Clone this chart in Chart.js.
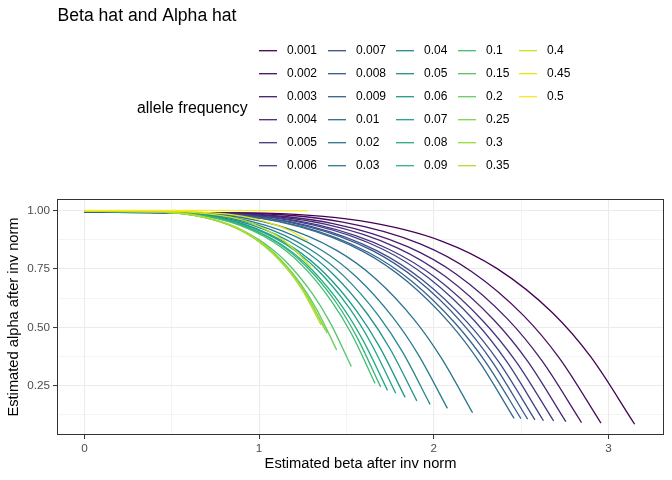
<!DOCTYPE html>
<html>
<head>
<meta charset="utf-8">
<script src="https://cdn.jsdelivr.net/npm/chart.js@4"></script>
<style>
  html, body { margin: 0; padding: 0; background: #fff; }
  #wrap { width: 672px; height: 480px; }
</style>
</head>
<body>
<div id="wrap"><canvas id="chart" width="672" height="480"></canvas></div>
<script>
// Allele frequency groups (legend order)
const freqLabels = ['0.001', '0.002', '0.003', '0.004', '0.005', '0.006', '0.007', '0.008', '0.009',
  '0.01', '0.02', '0.03', '0.04', '0.05', '0.06', '0.07', '0.08', '0.09',
  '0.1', '0.15', '0.2', '0.25', '0.3', '0.35', '0.4', '0.45', '0.5'];

// viridis, 27 levels
const viridisColors = ['#440154', '#470e61', '#481c6e', '#482878', '#453581', '#424186', '#3d4d8a',
  '#39578c', '#36618d', '#306b8e', '#2c748e', '#287d8e', '#24878e', '#21918c', '#1f998a', '#20a386',
  '#26ac82', '#31b57b', '#41bd72', '#54c568', '#69cd5b', '#7fd34e', '#98d83e', '#b3dd2d', '#cde11d',
  '#e6e419', '#fde725'];

// Estimated beta (x) per group
const betaHat = [
  [0, 0.945, 1.575, 2.048, 2.363, 2.678, 2.898, 3.150],
  [0, 0.887, 1.479, 1.922, 2.218, 2.513, 2.720, 2.957],
  [0, 0.854, 1.423, 1.850, 2.135, 2.419, 2.618, 2.846],
  [0, 0.827, 1.378, 1.791, 2.067, 2.343, 2.536, 2.756],
  [0, 0.806, 1.343, 1.746, 2.015, 2.283, 2.471, 2.686],
  [0, 0.788, 1.314, 1.708, 1.971, 2.234, 2.418, 2.628],
  [0, 0.774, 1.290, 1.676, 1.934, 2.192, 2.373, 2.579],
  [0, 0.761, 1.269, 1.649, 1.903, 2.156, 2.334, 2.537],
  [0, 0.750, 1.250, 1.624, 1.874, 2.124, 2.299, 2.499],
  [0, 0.738, 1.230, 1.599, 1.845, 2.091, 2.263, 2.460],
  [0, 0.667, 1.111, 1.444, 1.667, 1.889, 2.044, 2.222],
  [0, 0.623, 1.039, 1.351, 1.559, 1.766, 1.912, 2.078],
  [0, 0.594, 0.990, 1.286, 1.484, 1.682, 1.821, 1.979],
  [0, 0.571, 0.952, 1.237, 1.427, 1.618, 1.751, 1.903],
  [0, 0.551, 0.918, 1.193, 1.377, 1.561, 1.689, 1.836],
  [0, 0.535, 0.891, 1.158, 1.337, 1.515, 1.639, 1.782],
  [0, 0.521, 0.868, 1.128, 1.301, 1.475, 1.596, 1.735],
  [0, 0.509, 0.848, 1.102, 1.272, 1.442, 1.560, 1.696],
  [0, 0.499, 0.832, 1.082, 1.248, 1.414, 1.531, 1.664],
  [0, 0.458, 0.764, 0.993, 1.146, 1.299, 1.406, 1.528],
  [0, 0.433, 0.722, 0.939, 1.083, 1.227, 1.328, 1.444],
  [0, 0.417, 0.695, 0.904, 1.043, 1.182, 1.279, 1.390],
  [0, 0.414, 0.691, 0.898, 1.036, 1.174, 1.271, 1.381],
  [0, 0.407, 0.678, 0.881, 1.016, 1.152, 1.247, 1.355],
  [0, 0.389, 0.649, 0.843, 0.973, 1.102, 1.193, 1.297],
  [0, 0.383, 0.639, 0.831, 0.959, 1.086, 1.176, 1.278],
  [0, 0.638, 1.276]
];

// Estimated alpha (y) per group
const alphaHat = [
  [0.993, 0.990, 0.956, 0.868, 0.751, 0.563, 0.374, 0.085],
  [0.993, 0.989, 0.950, 0.857, 0.738, 0.551, 0.367, 0.090],
  [0.993, 0.987, 0.944, 0.845, 0.724, 0.538, 0.358, 0.092],
  [0.993, 0.987, 0.941, 0.840, 0.717, 0.532, 0.356, 0.096],
  [0.993, 0.986, 0.937, 0.833, 0.710, 0.526, 0.353, 0.099],
  [0.993, 0.986, 0.937, 0.834, 0.711, 0.527, 0.353, 0.100],
  [0.993, 0.985, 0.933, 0.827, 0.703, 0.521, 0.351, 0.104],
  [0.993, 0.985, 0.933, 0.828, 0.704, 0.523, 0.353, 0.107],
  [0.993, 0.984, 0.930, 0.821, 0.697, 0.516, 0.349, 0.109],
  [0.995, 0.986, 0.931, 0.823, 0.698, 0.518, 0.350, 0.110],
  [0.997, 0.988, 0.935, 0.829, 0.708, 0.532, 0.368, 0.134],
  [0.997, 0.988, 0.936, 0.833, 0.714, 0.542, 0.382, 0.153],
  [0.997, 0.989, 0.938, 0.836, 0.720, 0.551, 0.395, 0.170],
  [0.997, 0.989, 0.939, 0.839, 0.725, 0.559, 0.406, 0.185],
  [0.997, 0.989, 0.940, 0.842, 0.730, 0.567, 0.417, 0.200],
  [0.997, 0.990, 0.945, 0.852, 0.743, 0.584, 0.434, 0.218],
  [0.997, 0.990, 0.946, 0.854, 0.747, 0.590, 0.443, 0.230],
  [0.997, 0.991, 0.950, 0.863, 0.759, 0.605, 0.458, 0.245],
  [0.997, 0.991, 0.951, 0.865, 0.764, 0.612, 0.469, 0.260],
  [0.997, 0.992, 0.955, 0.878, 0.787, 0.650, 0.521, 0.332],
  [0.997, 0.993, 0.965, 0.900, 0.820, 0.697, 0.579, 0.403],
  [0.997, 0.994, 0.969, 0.912, 0.841, 0.733, 0.629, 0.475],
  [0.997, 0.994, 0.969, 0.913, 0.844, 0.738, 0.636, 0.485],
  [0.997, 0.995, 0.974, 0.924, 0.860, 0.759, 0.660, 0.510],
  [0.998, 0.997, 0.990, 0.970, 0.941, 0.891, 0.839, 0.757],
  [0.999, 0.999, 0.994, 0.983, 0.967, 0.940, 0.913, 0.871],
  [1.000, 1.000, 0.998]
];

// Axis ticks (major get labels, minor only grid lines)
const xMajorTicks = [0, 1, 2, 3];
const xMinorTicks = [0.5, 1.5, 2.5];
const yMajorTicks = [0.25, 0.5, 0.75, 1.0];
const yMinorTicks = [0.125, 0.375, 0.625, 0.875];

const FONT = '"Liberation Sans", Arial, Helvetica, sans-serif';
Chart.defaults.font.family = FONT;

const datasets = freqLabels.map((label, i) => ({
  label: label,
  data: betaHat[i].map((x, j) => ({ x: x, y: alphaHat[i][j] })),
  borderColor: viridisColors[i],
  backgroundColor: viridisColors[i],
  borderWidth: 1.3,
  pointRadius: 0,
  fill: false,
  cubicInterpolationMode: 'monotone',
  order: freqLabels.length - i
}));

const isMajor = (list, v) => list.some(t => Math.abs(t - v) < 1e-9);

// white page + ggplot-like title, legend and panel border
const decorations = {
  id: 'decorations',
  beforeDraw(chart) {
    const ctx = chart.ctx;
    ctx.save();
    ctx.fillStyle = '#ffffff';
    ctx.fillRect(0, 0, chart.width, chart.height);
    ctx.restore();
  },
  afterDraw(chart) {
    const ctx = chart.ctx;
    const a = chart.chartArea;
    ctx.save();

    // panel border
    ctx.strokeStyle = '#333333';
    ctx.lineWidth = 1;
    ctx.strokeRect(a.left + 0.5, a.top + 0.5, a.right - a.left - 1, a.bottom - a.top - 1);

    // title
    ctx.fillStyle = '#000000';
    ctx.font = '17.6px ' + FONT;
    ctx.textAlign = 'left';
    ctx.textBaseline = 'alphabetic';
    ctx.fillText('Beta hat and Alpha hat', 57.5, 21);

    // legend title
    ctx.font = '15.8px ' + FONT;
    ctx.textBaseline = 'middle';
    ctx.fillText('allele frequency', 137, 109);

    // legend keys, column major, 6 rows
    const colKeyX = [259, 328, 396, 458, 519];
    const rowY0 = 50.7, rowStep = 23;
    ctx.font = '12px ' + FONT;
    chart.data.datasets.forEach((ds, i) => {
      const col = Math.floor(i / 6);
      const row = i % 6;
      const kx = colKeyX[col];
      const ky = rowY0 + row * rowStep;
      ctx.strokeStyle = ds.borderColor;
      ctx.lineWidth = 1.3;
      ctx.beginPath();
      ctx.moveTo(kx, ky);
      ctx.lineTo(kx + 18, ky);
      ctx.stroke();
      ctx.fillStyle = '#000000';
      ctx.fillText(ds.label, kx + 28, ky);
    });
    ctx.restore();
  }
};

const gridColor = '#ebebeb';

new Chart(document.getElementById('chart'), {
  type: 'line',
  data: { datasets: datasets },
  plugins: [decorations],
  options: {
    responsive: false,
    animation: false,
    layout: { padding: { top: 199, right: 8, left: 0, bottom: 0 } },
    plugins: {
      legend: { display: false },
      tooltip: { enabled: false },
      title: { display: false }
    },
    scales: {
      x: {
        type: 'linear',
        min: -0.157,
        max: 3.318,
        afterFit: (scale) => { scale.height = 45; },
        afterBuildTicks: (scale) => {
          scale.ticks = [...xMajorTicks, ...xMinorTicks].sort((p, q) => p - q).map(v => ({ value: v }));
        },
        grid: {
          color: gridColor,
          lineWidth: (c) => isMajor(xMajorTicks, c.tick.value) ? 1.1 : 0.55,
          drawTicks: true,
          tickLength: 4,
          tickColor: (c) => isMajor(xMajorTicks, c.tick.value) ? '#333333' : 'rgba(0,0,0,0)',
          tickWidth: 1
        },
        border: { display: false },
        ticks: {
          autoSkip: false,
          maxRotation: 0,
          padding: 3,
          color: '#4d4d4d',
          font: { size: 11.7 },
          callback: (v) => isMajor(xMajorTicks, v) ? String(v) : ''
        },
        title: {
          display: true,
          text: 'Estimated beta after inv norm',
          color: '#000000',
          font: { size: 14.7 },
          padding: { top: 0, bottom: 7 }
        }
      },
      y: {
        type: 'linear',
        min: 0.039,
        max: 1.049,
        afterFit: (scale) => { scale.width = 57; },
        afterBuildTicks: (scale) => {
          scale.ticks = [...yMajorTicks, ...yMinorTicks].sort((p, q) => p - q).map(v => ({ value: v }));
        },
        grid: {
          color: gridColor,
          lineWidth: (c) => isMajor(yMajorTicks, c.tick.value) ? 1.1 : 0.55,
          drawTicks: true,
          tickLength: 4,
          tickColor: (c) => isMajor(yMajorTicks, c.tick.value) ? '#333333' : 'rgba(0,0,0,0)',
          tickWidth: 1
        },
        border: { display: false },
        ticks: {
          autoSkip: false,
          padding: 3,
          color: '#4d4d4d',
          font: { size: 11.7 },
          callback: (v) => isMajor(yMajorTicks, v) ? Number(v).toFixed(2) : ''
        },
        title: {
          display: true,
          text: 'Estimated alpha after inv norm',
          color: '#000000',
          font: { size: 14.7 },
          padding: { top: 5, bottom: 0 }
        }
      }
    }
  }
});
</script>
</body>
</html>
